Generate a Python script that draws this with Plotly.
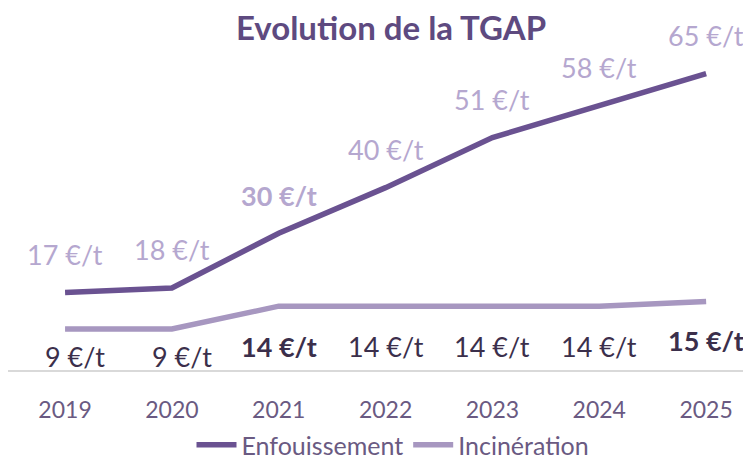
import plotly.graph_objects as go

years = ["2019", "2020", "2021", "2022", "2023", "2024", "2025"]
enfouissement = [17, 18, 30, 40, 51, 58, 65]
incineration = [9, 9, 14, 14, 14, 14, 15]
label_unit = " €/t"

# styling
enf_bold = [False, False, True, False, False, False, False]
inc_bold = [False, False, True, False, False, False, True]
inc_dx = [10, 10, 0, 0, 0, 0, 0]
inc_dy = [-28, -28, -40, -40, -40, -40, -39]

DARK = "#6a5291"
LIGHT = "#a797c0"
LABEL_LIGHT = "#b5a7cf"
LABEL_DARK = "#3b2f4b"
FONT = "Lato"

# page body has an 8px default margin: figure drawn 8px right/down
W, H = 743, 452

fig = go.Figure()
fig.add_trace(go.Scatter(x=years, y=enfouissement, mode="lines", name="Enfouissement",
                         line=dict(color=DARK, width=5.5), hoverinfo="skip"))
fig.add_trace(go.Scatter(x=years, y=incineration, mode="lines", name="Incinération",
                         line=dict(color=LIGHT, width=5.5), hoverinfo="skip"))

ann = []
for i, v in enumerate(enfouissement):
    txt = f"{v}{label_unit}"
    if enf_bold[i]:
        txt = f"<b>{txt}</b>"
    ann.append(dict(x=i, y=v, xref="x", yref="y", text=txt, showarrow=False,
                    xanchor="center", yanchor="middle",
                    yshift=38, font=dict(family=FONT, size=27, color=LABEL_LIGHT)))
for i, v in enumerate(incineration):
    txt = f"{v}{label_unit}"
    if inc_bold[i]:
        txt = f"<b>{txt}</b>"
    ann.append(dict(x=i, y=v, xref="x", yref="y", text=txt, showarrow=False,
                    xanchor="center", yanchor="middle",
                    yshift=inc_dy[i], xshift=inc_dx[i],
                    font=dict(family=FONT, size=27, color=LABEL_DARK)))

fig.update_layout(
    width=W, height=H,
    margin=dict(l=0, r=0, t=52, b=90, autoexpand=False),
    paper_bgcolor="white", plot_bgcolor="white",
    title=dict(text="<b>Evolution de la TGAP</b>", x=383/W, xanchor="center",
               xref="container", yref="container", y=1-20/H, yanchor="middle",
               font=dict(family=FONT, size=33, color="#5e4a80")),
    xaxis=dict(type="category", range=[-0.534, 6.42], showgrid=False, zeroline=False,
               showline=True, linecolor="#d9d9d9", linewidth=2, ticks="",
               ticklabelstandoff=18, automargin=False,
               tickfont=dict(family=FONT, size=23, color="#6a5a82")),
    yaxis=dict(range=[0, 68], visible=False, showgrid=False, zeroline=False, automargin=False),
    legend=dict(orientation="h", x=385/W, xanchor="center", y=-(437-362)/310, yanchor="middle",
                font=dict(family=FONT, size=25, color="#6a5a82"), itemwidth=40,
                bgcolor="rgba(0,0,0,0)"),
    showlegend=True,
    annotations=ann,
)

fig.write_html("out.html")
